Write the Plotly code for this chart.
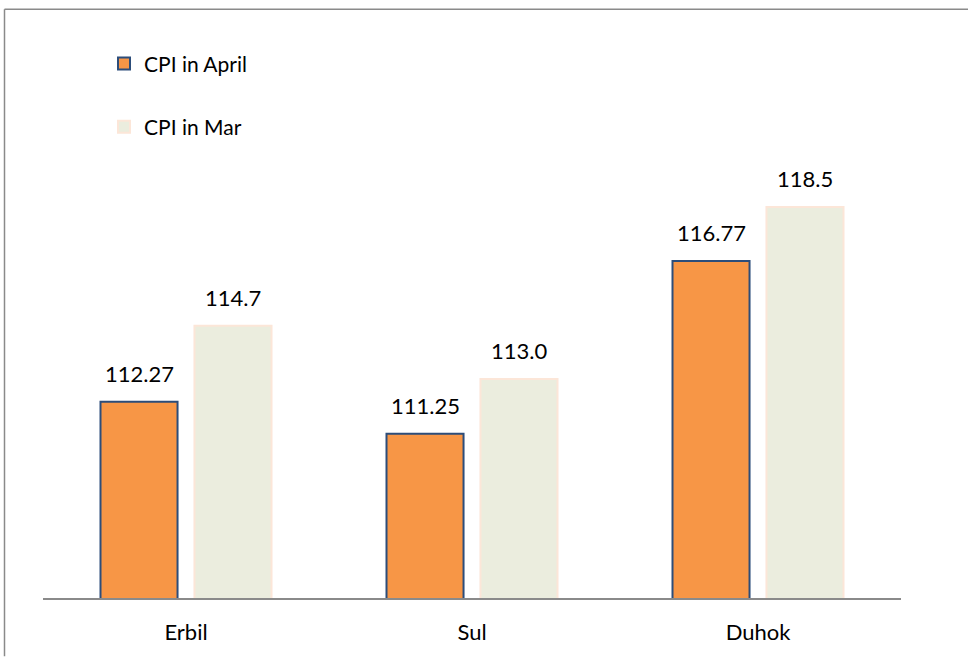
import plotly.graph_objects as go

categories = ["Erbil", "Sul", "Duhok"]
cpi_april = [112.27, 111.25, 116.77]
cpi_mar = [114.7, 113.0, 118.5]
april_labels = ["112.27", "111.25", "116.77"]
mar_labels = ["114.7", "113.0", "118.5"]

W, H = 968, 657
L, R, T, B = 43, 67, 160, 54
pw, ph = W - L - R, H - T - B

def px_x(x):
    return (x - L) / pw

def px_y(y):
    return (H - B - y) / ph

FONT = "Lato, Carlito, Calibri, sans-serif"

fig = go.Figure()
fig.add_trace(go.Bar(
    x=categories, y=cpi_april, name="CPI in April", legendgroup="a",
    marker=dict(color="#F79646", line=dict(color="#2C4D7A", width=2)),
))
fig.add_trace(go.Bar(
    x=categories, y=cpi_mar, name="CPI in Mar", legendgroup="b",
    marker=dict(color="#EBEDDE", line=dict(color="#FCE6D8", width=2)),
))

annotations = []
for i, c in enumerate(categories):
    annotations.append(dict(x=c, y=cpi_april[i], text=april_labels[i], xref="x", yref="y",
                            xshift=-47, yshift=13, yanchor="bottom", showarrow=False,
                            font=dict(family=FONT, size=22, color="#000000")))
    annotations.append(dict(x=c, y=cpi_mar[i], text=mar_labels[i], xref="x", yref="y",
                            xshift=47, yshift=13, yanchor="bottom", showarrow=False,
                            font=dict(family=FONT, size=22, color="#000000")))

shapes = [
    dict(type="line", xref="paper", yref="paper", x0=px_x(4.5), x1=px_x(4.5),
         y0=px_y(7.5), y1=px_y(H + 5), line=dict(color="#8A8A8A", width=1.5)),
    dict(type="line", xref="paper", yref="paper", x0=px_x(4.5), x1=px_x(W + 5),
         y0=px_y(7.5), y1=px_y(7.5), line=dict(color="#8A8A8A", width=1.5)),
]

fig.update_layout(
    width=W, height=H,
    margin=dict(l=L, r=R, t=T, b=B, pad=0),
    paper_bgcolor="white", plot_bgcolor="white",
    barmode="group", bargap=0.343, bargroupgap=0.18,
    font=dict(family=FONT, size=16, color="#000000"),
    showlegend=True,
    legend=dict(x=px_x(104), y=px_y(42), xanchor="left", yanchor="top",
                traceorder="grouped", tracegroupgap=33,
                font=dict(family=FONT, size=21, color="#000000"),
                bgcolor="rgba(0,0,0,0)"),
    annotations=annotations,
    shapes=shapes,
)
fig.update_xaxes(showline=True, linecolor="#8A8A8A", linewidth=1.5, ticks="",
                 showgrid=False, zeroline=False, ticklabelstandoff=14,
                 tickfont=dict(family=FONT, size=22, color="#000000"))
fig.update_yaxes(range=[106, 120], visible=False, showgrid=False, zeroline=False)

fig.write_html("out.html", config={"displayModeBar": False},
               post_script="document.body.style.margin='0';document.body.style.overflow='hidden';")
